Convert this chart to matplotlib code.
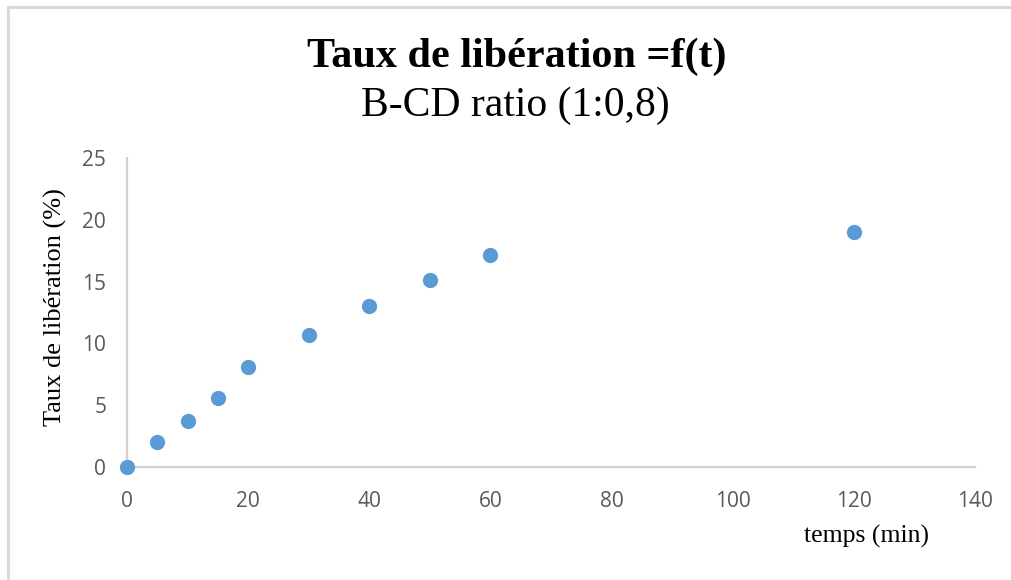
import matplotlib
matplotlib.use("Agg")
import matplotlib.pyplot as plt
from matplotlib.lines import Line2D

# release measurements
temps = [0, 5, 10, 15, 20, 30, 40, 50, 60, 120]
taux = [0.0, 2.0, 3.75, 5.55, 8.1, 10.65, 13.05, 15.1, 17.15, 19.05]

x_ticks = [0, 20, 40, 60, 80, 100, 120, 140]
y_ticks = [0, 5, 10, 15, 20, 25]

W, H = 1011, 580
fig = plt.figure(figsize=(W / 100, H / 100), dpi=100)
fig.patch.set_facecolor("white")

ax = fig.add_axes([127 / W, 1 - 467 / H, (975 - 127) / W, (467 - 158) / H])
ax.plot(temps, taux, "o", color="#5B9BD5", markersize=11, markeredgewidth=0,
        clip_on=False, zorder=5)

ax.set_xlim(0, 140)
ax.set_ylim(0, 25)
ax.set_xticks(x_ticks)
ax.set_yticks(y_ticks)

for side in ["top", "right"]:
    ax.spines[side].set_visible(False)
for side in ["left", "bottom"]:
    ax.spines[side].set_color("#d0d0d0")
    ax.spines[side].set_linewidth(1.6)

ax.tick_params(length=0, labelsize=15, labelcolor="#595959")
ax.tick_params(axis="x", pad=17.5)
ax.tick_params(axis="y", pad=15)
for lab in ax.get_xticklabels() + ax.get_yticklabels():
    lab.set_fontfamily("Open Sans")

# axis titles
fig.text(55 / W, 1 - 307 / H, "Taux de libération (%)", rotation=90,
         ha="center", va="center", family="Liberation Serif", fontsize=19)
fig.text(866 / W, 1 - 536 / H, "temps (min)", ha="center", va="center",
         family="Liberation Serif", fontsize=18.5)

# chart title
fig.text(516.5 / W, 1 - 67.3 / H, "Taux de libération =f(t)", ha="center",
         va="baseline", family="Liberation Serif", fontweight="bold",
         fontsize=30.3)
fig.text(515 / W, 1 - 115.7 / H, "B-CD ratio (1:0,8)", ha="center",
         va="baseline", family="Liberation Serif", fontsize=30)

# chart area border
fig.add_artist(Line2D([8 / W, 1], [1 - 7 / H, 1 - 7 / H], color="#d9d9d9",
                      linewidth=2.2, transform=fig.transFigure))
fig.add_artist(Line2D([8 / W, 8 / W], [0, 1 - 7 / H], color="#d9d9d9",
                      linewidth=2.2, transform=fig.transFigure))

fig.savefig("out.png", dpi=100)
